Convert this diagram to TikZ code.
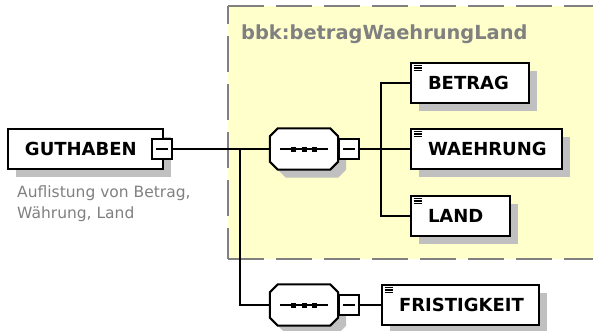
\documentclass[tikz,border=0pt]{standalone}
\usepackage{fontspec}
\setmainfont{DejaVu Sans}
\usetikzlibrary{shadows}
\definecolor{grpyellow}{HTML}{FFFFCC}
\definecolor{grpgray}{HTML}{808080}
\definecolor{shadowgray}{HTML}{C0C0C0}
\newcommand\elemtxt[2]{\makebox[#1pt][l]{\hspace*{17pt}#2}}
\begin{document}
\begin{tikzpicture}[x=1pt,y=-1pt,
  boxshadow/.style={drop shadow={shadow xshift=8pt,shadow yshift=-8pt,fill=shadowgray,opacity=1}},
  elem/.style={draw=black,line width=2pt,fill=white,inner sep=0pt,minimum height=40pt,
    anchor=west,font=\fontsize{18}{20}\selectfont\bfseries,boxshadow},
  seqbox/.style={rectangle,inner sep=0pt,minimum width=68pt,minimum height=41pt},
  octa/.style={draw=black,line width=2pt,fill=white,boxshadow},
  minusbox/.style={draw=black,line width=2pt,fill=white,inner sep=0pt,minimum width=20pt,minimum height=20pt},
  conn/.style={draw=black,line width=2pt},
  icon/.style={line width=1.1pt},
  grpborder/.style={draw=grpgray,line width=2pt,dash pattern=on 36pt off 12pt},
  desc/.style={anchor=base west,text=grpgray,font=\fontsize{15.5}{18}\selectfont,inner sep=0pt}
]
\useasboundingbox (0,0) rectangle (593,331);
% group box
\fill[grpyellow] (228,6) rectangle (600,259);
\draw[grpborder] (228,6) -- (600,6);
\draw[grpborder] (228,259) -- (600,259);
\draw[grpborder,dash phase=5pt] (228,259) -- (228,6);
\node[anchor=base west,inner sep=0pt,text=grpgray,font=\fontsize{19.4}{22}\selectfont\bfseries] (title) at (241,40) {bbk:betragWaehrungLand};

% root element
\node[elem] (gut) at (7,149) {\elemtxt{155}{GUTHABEN}};
\node[minusbox,minimum height=19pt] (gm) at (162,149) {};
\draw[line width=1.8pt] ([xshift=-6pt]gm.center) -- ([xshift=6pt]gm.center);
\node[desc] (d1) at (17,197) {Auflistung von Betrag,};
\node[desc] (d2) at (17,218) {Währung, Land};

% sequences
\node[seqbox] (s1) at (304,149) {};
\node[seqbox] (s2) at (304,305) {};
\foreach \s in {s1,s2}{
  \path[octa] ([xshift=8pt]\s.north west) -- ([xshift=-8pt]\s.north east) -- ([yshift=-8pt]\s.north east)
    -- ([yshift=8pt]\s.south east) -- ([xshift=-8pt]\s.south east) -- ([xshift=8pt]\s.south west)
    -- ([yshift=8pt]\s.south west) -- ([yshift=-8pt]\s.north west) -- cycle;
  \draw[line width=1.8pt] ([xshift=-24pt]\s.center) -- ([xshift=24pt]\s.center);
  \foreach \dx in {-10.5,0,10.5}
    \fill ([shift={(\dx-2.5,-2.5)}]\s.center) rectangle ++(5,5);
}
\node[minusbox] (s1m) at (349,149) {};
\node[minusbox] (s2m) at (349,305) {};
\foreach \m in {s1m,s2m}
  \draw[line width=1.8pt] ([xshift=-6pt]\m.center) -- ([xshift=6pt]\m.center);

% child elements
\node[elem] (betrag) at (410,83) {\elemtxt{118}{BETRAG}};
\node[elem] (waehr) at (410,149) {\elemtxt{151}{WAEHRUNG}};
\node[elem] (land) at (410,216) {\elemtxt{99}{LAND}};
\node[elem] (frist) at (381,305) {\elemtxt{157}{FRISTIGKEIT}};
\foreach \e in {betrag,waehr,land,frist}{
  \foreach \dy in {3.5,6,8.5}
    \draw[icon] ([shift={(3.5,\dy)}]\e.north west) -- ++(8,0);
}

% connectors
\coordinate (j1) at (240,149);
\coordinate (j2) at (381,149);
\draw[conn] (gm.east) -- (s1.west);
\draw[conn] (j1) |- (s2.west);
\draw[conn] (s1m.east) -- (waehr.west);
\draw[conn] (j2) |- (betrag.west);
\draw[conn] (j2) |- (land.west);
\draw[conn] (s2m.east) -- (frist.west);
\end{tikzpicture}
\end{document}
